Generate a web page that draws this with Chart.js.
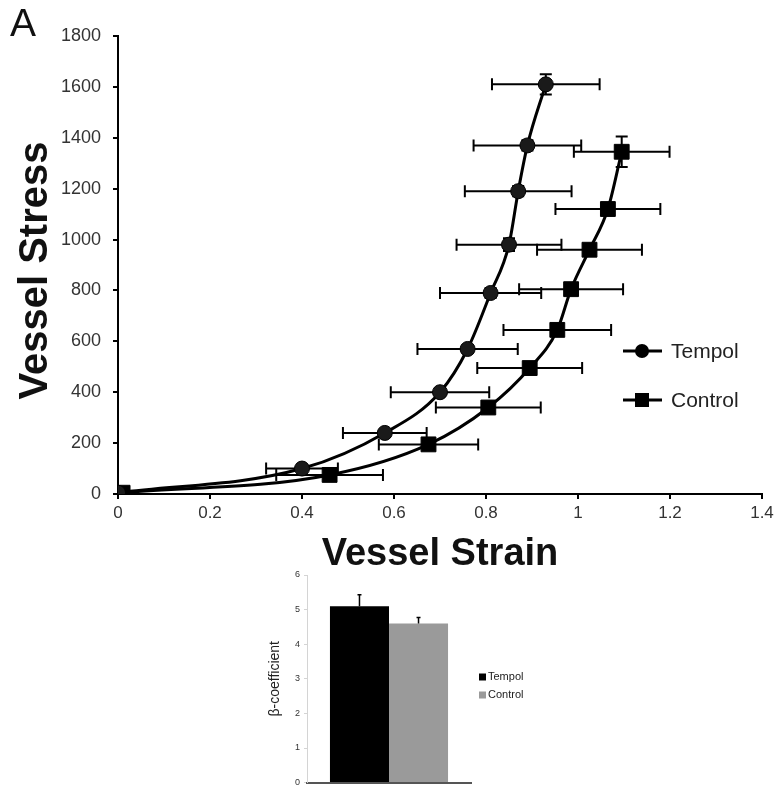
<!DOCTYPE html>
<html>
<head>
<meta charset="utf-8">
<script src="https://cdn.jsdelivr.net/npm/chart.js@4.4.1/dist/chart.umd.min.js"></script>
<style>
  body { margin: 0; background: #fff; }
  #page { position: relative; width: 781px; height: 789px; background: #fff; overflow: hidden; }
  #mainWrap { position: absolute; left: 0; top: 0; width: 781px; height: 580px; }
  #barWrap { position: absolute; left: 250px; top: 560px; width: 290px; height: 232px; }
  #panelLabel { position: absolute; left: 10px; top: 1px; font: 39px "Liberation Sans", Arial, sans-serif; color: #111; }
</style>
</head>
<body>
<div id="page">
  <div id="mainWrap"><canvas id="stressChart" width="781" height="580"></canvas></div>
  <div id="barWrap"><canvas id="betaChart" width="290" height="232"></canvas></div>
  <div id="panelLabel">A</div>
</div>
<script>
// Stress-strain data
const tempolStrain    = [0, 0.40, 0.58, 0.70, 0.76, 0.81, 0.85, 0.87, 0.89, 0.93];
const tempolStress    = [5, 100, 240, 400, 570, 790, 980, 1190, 1370, 1610];
const tempolStrainErr = [0, 0.078, 0.091, 0.107, 0.109, 0.110, 0.114, 0.116, 0.117, 0.117];
const tempolStressErr = [0, 8, 10, 15, 15, 20, 25, 20, 20, 40];

const controlStrain    = [0.01, 0.46, 0.675, 0.805, 0.895, 0.955, 0.985, 1.025, 1.065, 1.095];
const controlStress    = [5, 75, 195, 340, 495, 645, 805, 960, 1120, 1345];
const controlStrainErr = [0, 0.116, 0.108, 0.114, 0.114, 0.117, 0.113, 0.114, 0.114, 0.104];
const controlStressErr = [0, 8, 10, 10, 10, 10, 12, 12, 12, 60];

const seriesNames = ['Tempol', 'Control'];

// beta-coefficient bar data
const betaValues = [5.1, 4.6];
const betaErrors = [0.33, 0.17];
const betaColors = ['#000000', '#9a9a9a'];

const FONT = '"Liberation Sans", Arial, sans-serif';

function toPoints(xs, ys) {
    return xs.map((x, i) => ({ x: x, y: ys[i] }));
}

// error bars drawn through the chart's own scales
const errorBarPlugin = {
    id: 'errorBars',
    beforeDatasetsDraw(chart) {
        const ctx = chart.ctx;
        const xs = chart.scales.x;
        const ys = chart.scales.y;
        const errs = [
            { sx: tempolStrain, sy: tempolStress, ex: tempolStrainErr, ey: tempolStressErr },
            { sx: controlStrain, sy: controlStress, ex: controlStrainErr, ey: controlStressErr }
        ];
        ctx.save();
        ctx.strokeStyle = '#000';
        ctx.lineWidth = 2;
        errs.forEach(e => {
            e.sx.forEach((sx, i) => {
                const px = xs.getPixelForValue(sx);
                const py = ys.getPixelForValue(e.sy[i]);
                if (e.ex[i] > 0) {
                    const l = xs.getPixelForValue(sx - e.ex[i]);
                    const r = xs.getPixelForValue(sx + e.ex[i]);
                    ctx.beginPath();
                    ctx.moveTo(l, py); ctx.lineTo(r, py);
                    ctx.moveTo(l, py - 6); ctx.lineTo(l, py + 6);
                    ctx.moveTo(r, py - 6); ctx.lineTo(r, py + 6);
                    ctx.stroke();
                }
                if (e.ey[i] > 0) {
                    const t = ys.getPixelForValue(e.sy[i] + e.ey[i]);
                    const b = ys.getPixelForValue(e.sy[i] - e.ey[i]);
                    ctx.beginPath();
                    ctx.moveTo(px, t); ctx.lineTo(px, b);
                    ctx.moveTo(px - 6, t); ctx.lineTo(px + 6, t);
                    ctx.moveTo(px - 6, b); ctx.lineTo(px + 6, b);
                    ctx.stroke();
                }
            });
        });
        ctx.restore();
    }
};

const stressLegendPlugin = {
    id: 'stressLegend',
    afterDraw(chart) {
        const ctx = chart.ctx;
        const items = [
            { name: seriesNames[0], y: 351, style: 'circle' },
            { name: seriesNames[1], y: 400, style: 'rect' }
        ];
        ctx.save();
        items.forEach(it => {
            ctx.strokeStyle = '#000';
            ctx.lineWidth = 3;
            ctx.beginPath();
            ctx.moveTo(623, it.y); ctx.lineTo(662, it.y);
            ctx.stroke();
            ctx.fillStyle = '#000';
            if (it.style === 'circle') {
                ctx.beginPath();
                ctx.arc(642, it.y, 7, 0, Math.PI * 2);
                ctx.fill();
            } else {
                ctx.fillRect(635, it.y - 7, 14, 14);
            }
            ctx.fillStyle = '#222';
            ctx.font = '21px ' + FONT;
            ctx.textBaseline = 'middle';
            ctx.fillText(it.name, 671, it.y + 1);
        });
        ctx.restore();
    }
};

new Chart(document.getElementById('stressChart'), {
    type: 'line',
    data: {
        datasets: [{
            label: seriesNames[0],
            data: toPoints(tempolStrain, tempolStress),
            borderColor: '#000',
            borderWidth: 3,
            backgroundColor: '#000',
            pointStyle: 'circle',
            pointRadius: 7.5,
            pointBackgroundColor: '#1a1a1a',
            pointBorderColor: '#000',
            pointBorderWidth: 1,
            cubicInterpolationMode: 'monotone',
            fill: false
        }, {
            label: seriesNames[1],
            data: toPoints(controlStrain, controlStress),
            borderColor: '#000',
            borderWidth: 3,
            backgroundColor: '#000',
            pointStyle: 'rect',
            pointRadius: 10.5,
            pointBackgroundColor: '#000',
            pointBorderColor: '#000',
            pointBorderWidth: 1,
            cubicInterpolationMode: 'monotone',
            fill: false
        }]
    },
    options: {
        responsive: false,
        animation: false,
        layout: { padding: { top: 36, right: 19, left: 0, bottom: 0 } },
        plugins: { legend: { display: false }, tooltip: { enabled: false } },
        scales: {
            x: {
                type: 'linear',
                min: 0,
                max: 1.4,
                ticks: {
                    stepSize: 0.2,
                    color: '#333',
                    font: { family: FONT, size: 17 },
                    padding: 4,
                    callback: v => String(+v.toFixed(1))
                },
                grid: { display: true, drawOnChartArea: false, color: '#000', lineWidth: 2, tickLength: 5 },
                border: { display: true, color: '#000', width: 2 },
                title: {
                    display: true,
                    text: 'Vessel Strain',
                    color: '#111',
                    font: { family: FONT, size: 38, weight: 'bold' },
                    padding: { top: 0, bottom: 3 }
                },
                afterFit: scale => { scale.height = 86; }
            },
            y: {
                type: 'linear',
                min: 0,
                max: 1800,
                ticks: {
                    stepSize: 200,
                    color: '#333',
                    font: { family: FONT, size: 18 },
                    padding: 12,
                    callback: v => String(v)
                },
                grid: { display: true, drawOnChartArea: false, color: '#000', lineWidth: 2, tickLength: 5 },
                border: { display: true, color: '#000', width: 2 },
                title: {
                    display: true,
                    text: 'Vessel Stress ',
                    color: '#111',
                    font: { family: FONT, size: 40, weight: 'bold' },
                    padding: { top: 12, bottom: 0 }
                },
                afterFit: scale => { scale.width = 118; }
            }
        }
    },
    plugins: [errorBarPlugin, stressLegendPlugin]
});

// bar chart with up-only error bars and small legend
const betaExtrasPlugin = {
    id: 'betaExtras',
    afterDatasetsDraw(chart) {
        const ctx = chart.ctx;
        const ys = chart.scales.y;
        ctx.save();
        ctx.strokeStyle = '#000';
        ctx.lineWidth = 1.5;
        chart.data.datasets.forEach((ds, i) => {
            const bar = chart.getDatasetMeta(i).data[0];
            const top = ys.getPixelForValue(betaValues[i]);
            const end = ys.getPixelForValue(betaValues[i] + betaErrors[i]);
            ctx.beginPath();
            ctx.moveTo(bar.x, top); ctx.lineTo(bar.x, end);
            ctx.moveTo(bar.x - 2, end); ctx.lineTo(bar.x + 2, end);
            ctx.stroke();
        });
        // legend
        const ca = chart.chartArea;
        ctx.font = '11px ' + FONT;
        ctx.textBaseline = 'middle';
        seriesNames.forEach((name, i) => {
            const y = ca.top + 102 + i * 18;
            ctx.fillStyle = betaColors[i];
            ctx.fillRect(ca.right + 8, y - 3.5, 7, 7);
            ctx.fillStyle = '#222';
            ctx.fillText(name, ca.right + 17, y);
        });
        ctx.restore();
    }
};

new Chart(document.getElementById('betaChart'), {
    type: 'bar',
    data: {
        labels: [''],
        datasets: seriesNames.map((name, i) => ({
            label: name,
            data: [betaValues[i]],
            backgroundColor: betaColors[i],
            borderWidth: 0,
            categoryPercentage: 0.72,
            barPercentage: 1.0
        }))
    },
    options: {
        responsive: false,
        animation: false,
        layout: { padding: { top: 15, right: 69, left: 0, bottom: 0 } },
        plugins: { legend: { display: false }, tooltip: { enabled: false } },
        scales: {
            x: {
                ticks: { display: false },
                grid: { display: true, drawOnChartArea: false, drawTicks: false },
                border: { display: true, color: '#555', width: 2 },
                afterFit: scale => { scale.height = 1; }
            },
            y: {
                min: 0,
                max: 6,
                ticks: {
                    stepSize: 1,
                    color: '#333',
                    font: { family: FONT, size: 9 },
                    padding: 4
                },
                grid: { display: true, drawOnChartArea: false, drawTicks: true, tickLength: 3, color: '#d4d4d4' },
                border: { display: true, color: '#d4d4d4', width: 1 },
                title: {
                    display: true,
                    text: 'β-coefficient',
                    color: '#222',
                    font: { family: FONT, size: 14 },
                    padding: { top: 17, bottom: 0 }
                },
                afterFit: scale => { scale.width = 57; }
            }
        }
    },
    plugins: [betaExtrasPlugin]
});
</script>
</body>
</html>
